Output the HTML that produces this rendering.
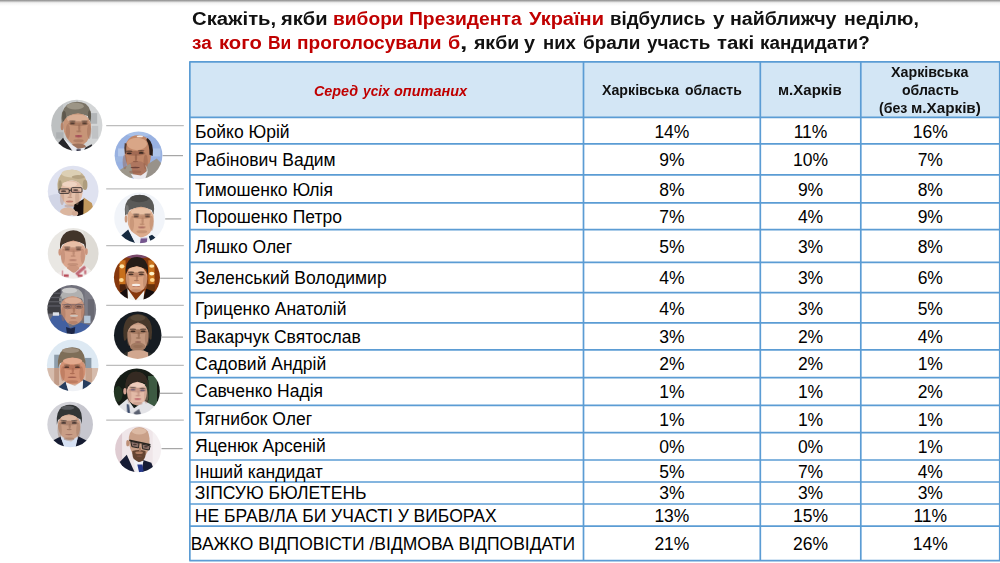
<!DOCTYPE html>
<html lang="uk"><head><meta charset="utf-8"><title>Опитування</title>
<style>
html,body{margin:0;padding:0;background:#fff;}
body{width:1000px;height:563px;overflow:hidden;position:relative;font-family:"Liberation Sans",sans-serif;color:#000;}
.topbar{position:absolute;left:0;top:0;width:1000px;height:6px;background:linear-gradient(#989898 0,#a0a0a0 14%,#d8d8d8 32%,#f2f2f2 48%,#f9f9f9 72%,#fff 100%);}
.tw{position:absolute;font-weight:bold;font-size:18.7px;line-height:24px;color:#111;white-space:nowrap;transform-origin:0 0;display:block;}
.hw{position:absolute;font-weight:bold;font-size:13.8px;line-height:18px;color:#111;white-space:nowrap;transform-origin:0 0;display:block;}
.hi{font-style:italic;}
.red{color:#c00000;}
.nm{position:absolute;left:194.6px;font-size:17.5px;white-space:nowrap;color:#000;}
.v{position:absolute;font-size:17.5px;text-align:center;white-space:nowrap;color:#000;}
svg{position:absolute;left:0;top:0;}
</style></head><body>
<div class="topbar"></div>

<span class="tw" style="left:191.69px;top:7.02px;transform:scaleX(1.0861)">Скажіть,</span>
<span class="tw" style="left:281.40px;top:7.02px;transform:scaleX(1.0738)">якби</span>
<span class="tw red" style="left:333.02px;top:7.02px;transform:scaleX(1.0264)">вибори</span>
<span class="tw red" style="left:408.51px;top:7.02px;transform:scaleX(1.0324)">Президента</span>
<span class="tw red" style="left:528.93px;top:7.02px;transform:scaleX(1.0686)">України</span>
<span class="tw" style="left:609.85px;top:7.02px;transform:scaleX(1.0027)">відбулись</span>
<span class="tw" style="left:713.12px;top:7.02px;transform:scaleX(1.1000)">у</span>
<span class="tw" style="left:730.29px;top:7.02px;transform:scaleX(1.0474)">найближчу</span>
<span class="tw" style="left:844.40px;top:7.02px;transform:scaleX(1.0426)">неділю,</span>
<span class="tw red" style="left:192.19px;top:31.02px;transform:scaleX(1.0105)">за</span>
<span class="tw red" style="left:218.55px;top:31.02px;transform:scaleX(1.0827)">кого</span>
<span class="tw red" style="left:268.33px;top:31.02px;transform:scaleX(0.9333)">Ви</span>
<span class="tw red" style="left:297.42px;top:31.02px;transform:scaleX(1.0227)">проголосували</span>
<span class="tw red" style="left:448.31px;top:31.02px;transform:scaleX(1.0600)">б</span>
<span class="tw" style="left:459.93px;top:31.02px;transform:scaleX(1.4182)">,</span>
<span class="tw" style="left:473.90px;top:31.02px;transform:scaleX(1.0429)">якби</span>
<span class="tw" style="left:523.84px;top:31.02px;transform:scaleX(1.0600)">у</span>
<span class="tw" style="left:543.46px;top:31.02px;transform:scaleX(0.9890)">них</span>
<span class="tw" style="left:583.14px;top:31.02px;transform:scaleX(1.0137)">брали</span>
<span class="tw" style="left:646.85px;top:31.02px;transform:scaleX(1.0105)">участь</span>
<span class="tw" style="left:716.95px;top:31.02px;transform:scaleX(1.0915)">такі</span>
<span class="tw" style="left:759.84px;top:31.02px;transform:scaleX(1.0089)">кандидати?</span>
<svg width="1000" height="563" viewBox="0 0 1000 563">
<rect x="189.85" y="61.85" width="809.9" height="55.550000000000004" fill="#d3e6f5"/>
<g stroke-width="1.25">
<line x1="106.2" y1="125.6" x2="183.8" y2="125.6" stroke="#bdbdbd"/>
<line x1="162.6" y1="155.6" x2="183.0" y2="155.6" stroke="#a6a6a6"/>
<line x1="106.2" y1="188.9" x2="183.8" y2="188.9" stroke="#bdbdbd"/>
<line x1="165.2" y1="218.9" x2="181.2" y2="218.9" stroke="#a6a6a6"/>
<line x1="106.2" y1="245.7" x2="183.8" y2="245.7" stroke="#bdbdbd"/>
<line x1="160.2" y1="278.3" x2="183.0" y2="278.3" stroke="#a6a6a6"/>
<line x1="106.2" y1="305.4" x2="183.8" y2="305.4" stroke="#bdbdbd"/>
<line x1="161.8" y1="337.1" x2="183.0" y2="337.1" stroke="#a6a6a6"/>
<line x1="106.2" y1="365.3" x2="183.8" y2="365.3" stroke="#bdbdbd"/>
<line x1="160.0" y1="393.3" x2="182.6" y2="393.3" stroke="#a6a6a6"/>
<line x1="106.2" y1="420.1" x2="183.8" y2="420.1" stroke="#bdbdbd"/>
<line x1="161.5" y1="448.6" x2="182.6" y2="448.6" stroke="#a6a6a6"/>
</g>
<g stroke="#5b9cd4" stroke-width="1.7" fill="none">
<line x1="189.25" y1="61.85" x2="1000.35" y2="61.85"/>
<line x1="189.25" y1="117.4" x2="1000.35" y2="117.4"/>
<line x1="189.25" y1="143.9" x2="1000.35" y2="143.9"/>
<line x1="189.25" y1="174.9" x2="1000.35" y2="174.9"/>
<line x1="189.25" y1="202.9" x2="1000.35" y2="202.9"/>
<line x1="189.25" y1="229.6" x2="1000.35" y2="229.6"/>
<line x1="189.25" y1="262.3" x2="1000.35" y2="262.3"/>
<line x1="189.25" y1="292.7" x2="1000.35" y2="292.7"/>
<line x1="189.25" y1="322.9" x2="1000.35" y2="322.9"/>
<line x1="189.25" y1="349.8" x2="1000.35" y2="349.8"/>
<line x1="189.25" y1="377.6" x2="1000.35" y2="377.6"/>
<line x1="189.25" y1="405.3" x2="1000.35" y2="405.3"/>
<line x1="189.25" y1="432.6" x2="1000.35" y2="432.6"/>
<line x1="189.25" y1="460.0" x2="1000.35" y2="460.0"/>
<line x1="189.25" y1="482.0" x2="1000.35" y2="482.0"/>
<line x1="189.25" y1="504.0" x2="1000.35" y2="504.0"/>
<line x1="189.25" y1="526.2" x2="1000.35" y2="526.2"/>
<line x1="189.25" y1="560.55" x2="1000.35" y2="560.55"/>
<line x1="189.85" y1="61.85" x2="189.85" y2="560.55"/>
<line x1="583.5" y1="61.85" x2="583.5" y2="560.55"/>
<line x1="760.3" y1="61.85" x2="760.3" y2="560.55"/>
<line x1="860.8" y1="61.85" x2="860.8" y2="560.55"/>
<line x1="999.75" y1="61.85" x2="999.75" y2="560.55"/>
</g>
<defs><filter id="bl" x="-5%" y="-5%" width="110%" height="110%"><feGaussianBlur stdDeviation="7"/></filter><filter id="bs" x="-5%" y="-5%" width="110%" height="110%"><feGaussianBlur stdDeviation="3.5"/></filter>
<clipPath id="c0"><circle cx="289" cy="285" r="240"/></clipPath>
<clipPath id="c1"><circle cx="277" cy="285" r="224"/></clipPath>
<clipPath id="c2"><circle cx="283" cy="283" r="238"/></clipPath>
<clipPath id="c3"><circle cx="287" cy="290" r="238"/></clipPath>
<clipPath id="c4"><circle cx="283" cy="285" r="238"/></clipPath>
<clipPath id="c5"><circle cx="281" cy="277" r="216"/></clipPath>
<clipPath id="c6"><circle cx="279" cy="277" r="229"/></clipPath>
<clipPath id="c7"><circle cx="279" cy="283" r="223"/></clipPath>
<clipPath id="c8"><circle cx="279" cy="285" r="242"/></clipPath>
<clipPath id="c9"><circle cx="280" cy="276" r="216"/></clipPath>
<clipPath id="c10"><circle cx="283" cy="277" r="214"/></clipPath>
<clipPath id="c11"><circle cx="283" cy="275" r="216"/></clipPath>
</defs>
<g transform="translate(46,95) scale(0.10657)"><g clip-path="url(#c0)"><g filter="url(#bl)">
<rect x="-80" y="-80" width="740" height="740" fill="#c9cccd"/>
<rect x="300" y="0" width="300" height="563" fill="#d3d5d6"/>
<rect x="0" y="0" width="160" height="563" fill="#bdc0c1"/>
<rect x="410" y="170" width="70" height="100" fill="#b2b5b7"/>
<rect x="95" y="350" width="70" height="60" fill="#adb0b2"/>
<rect x="430" y="290" width="60" height="120" fill="#c0c2c4"/>
<path d="M148,270 Q130,150 198,92 Q280,38 372,82 Q436,130 420,255 L398,200 Q300,150 203,200 Z" fill="#7a7366"/>
<ellipse cx="275" cy="105" rx="80" ry="32" fill="#9c9586"/>
<ellipse cx="170" cy="200" rx="18" ry="50" fill="#5e584e"/>
<ellipse cx="408" cy="190" rx="14" ry="45" fill="#5e584e"/>
<path d="M162,255 Q190,185 300,172 Q400,180 422,270 Q430,370 385,435 Q330,490 265,470 Q195,430 168,340 Z" fill="#c79578"/>
<ellipse cx="295" cy="222" rx="100" ry="40" fill="#d9ae94"/>
<ellipse cx="152" cy="295" rx="14" ry="36" fill="#b4836a"/>
<ellipse cx="300" cy="482" rx="72" ry="28" fill="#9e725c"/>
<polygon points="95,475 160,402 252,530 230,570 70,570" fill="#26262b"/>
<polygon points="362,498 428,462 480,570 335,570" fill="#303036"/>
<polygon points="163,408 255,530 352,530 368,492 300,505 212,445" fill="#e9ebf1"/>
<ellipse cx="305" cy="268" rx="97" ry="22" fill="#9a6a54" opacity="0.6"/>
<ellipse cx="205.25" cy="342.0" rx="20" ry="70" fill="#9a6a54" opacity="0.42"/>
<ellipse cx="404.75" cy="342.0" rx="20" ry="70" fill="#9a6a54" opacity="0.42"/>
<ellipse cx="305" cy="430" rx="48" ry="14" fill="#9a6a54" opacity="0.5"/>
</g><g filter="url(#bs)">
<ellipse cx="248" cy="266" rx="24" ry="8" fill="#3e2c26"/>
<ellipse cx="362" cy="266" rx="24" ry="8" fill="#3e2c26"/>
<ellipse cx="248" cy="246" rx="31" ry="6" fill="#3e2c26" opacity="0.8"/>
<ellipse cx="362" cy="246" rx="31" ry="6" fill="#3e2c26" opacity="0.8"/>
<ellipse cx="312" cy="304.5" rx="11" ry="31.5" fill="#9a6a54" opacity="0.65"/>
<ellipse cx="307" cy="340" rx="24" ry="7" fill="#9a6a54" opacity="0.85"/>
<ellipse cx="305" cy="388" rx="34" ry="10" fill="#a8525a"/>
<polygon points="285,508 326,508 322,570 288,570" fill="#35354a"/>
</g></g></g>
<g transform="translate(109,125) scale(0.10657)"><g clip-path="url(#c1)"><g filter="url(#bl)">
<rect x="-80" y="-80" width="740" height="740" fill="#98b1e1"/>
<rect x="85" y="220" width="70" height="75" fill="#b4c8ea"/>
<rect x="398" y="220" width="85" height="75" fill="#aec4e8"/>
<rect x="55" y="300" width="90" height="45" fill="#9db6e0"/>
<ellipse cx="277" cy="80" rx="120" ry="30" fill="#a8c0e8"/>
<path d="M148,270 Q140,150 210,110 Q280,80 345,115 Q400,150 395,270 Q392,380 340,450 Q280,500 215,455 Q160,390 148,270 Z" fill="#c08667"/>
<ellipse cx="262" cy="178" rx="95" ry="58" fill="#d9a687"/>
<ellipse cx="265" cy="410" rx="95" ry="72" fill="#ae765e"/>
<path d="M362,122 Q424,170 410,290 L380,280 Q382,190 350,138 Z" fill="#2a1c18"/>
<path d="M148,170 Q138,220 150,272 L163,264 Q158,215 166,176 Z" fill="#523a30"/>
<polygon points="70,440 200,362 228,470 205,530 80,530" fill="#9d978b"/>
<polygon points="362,368 448,315 510,380 445,490 325,530" fill="#98928a"/>
<polygon points="205,460 250,530 340,510 362,430 300,475" fill="#ebe9ee"/>
<ellipse cx="246" cy="266" rx="96" ry="22" fill="#8e5a46" opacity="0.6"/>
<ellipse cx="148.0" cy="346.0" rx="20" ry="70" fill="#8e5a46" opacity="0.42"/>
<ellipse cx="344.0" cy="346.0" rx="20" ry="70" fill="#8e5a46" opacity="0.42"/>
<ellipse cx="246" cy="440" rx="58" ry="14" fill="#8e5a46" opacity="0.5"/>
</g><g filter="url(#bs)">
<ellipse cx="190" cy="266" rx="24" ry="8" fill="#382620"/>
<ellipse cx="302" cy="262" rx="24" ry="8" fill="#382620"/>
<ellipse cx="190" cy="246" rx="31" ry="6" fill="#382620" opacity="0.8"/>
<ellipse cx="302" cy="242" rx="31" ry="6" fill="#382620" opacity="0.8"/>
<ellipse cx="253" cy="305.25" rx="11" ry="33.75" fill="#8e5a46" opacity="0.65"/>
<ellipse cx="248" cy="343" rx="24" ry="7" fill="#8e5a46" opacity="0.85"/>
<ellipse cx="246" cy="398" rx="44" ry="7" fill="#6e4238"/>
<ellipse cx="290" cy="107" rx="30" ry="9" fill="#f6efe9"/>
<path d="M345,380 Q372,420 350,475" fill="none" stroke="#dcd8d0" stroke-width="6"/>
</g></g></g>
<g transform="translate(43,161) scale(0.10657)"><g clip-path="url(#c2)"><g filter="url(#bl)">
<rect x="-80" y="-80" width="740" height="740" fill="#dfe2f0"/>
<ellipse cx="140" cy="430" rx="160" ry="120" fill="#d1d5e6"/>
<path d="M138,270 Q120,150 200,100 Q290,55 370,120 Q420,170 405,250 Q395,280 375,260 Q330,170 250,185 Q180,200 160,290 Z" fill="#c6b493"/>
<ellipse cx="265" cy="118" rx="92" ry="36" fill="#dccfb4"/>
<ellipse cx="395" cy="225" rx="22" ry="48" fill="#ae9d7e"/>
<ellipse cx="160" cy="230" rx="16" ry="50" fill="#a89878"/>
<ellipse cx="330" cy="150" rx="60" ry="18" fill="#b4a282"/>
<path d="M160,285 Q170,200 250,185 Q340,175 372,260 Q378,340 330,400 Q270,440 215,405 Q165,350 160,285 Z" fill="#e4c0aa"/>
<ellipse cx="250" cy="218" rx="70" ry="26" fill="#efd4c2"/>
<polygon points="292,410 388,352 404,485 336,530 282,472" fill="#130f0d"/>
<polygon points="382,342 458,395 475,455 408,530 378,498" fill="#c1975c"/>
<ellipse cx="232" cy="474" rx="72" ry="38" fill="#dbb69f"/>
<ellipse cx="300" cy="492" rx="30" ry="22" fill="#d2aa94"/>
<ellipse cx="250" cy="280" rx="97" ry="22" fill="#b88e7a" opacity="0.6"/>
<ellipse cx="178.75" cy="344.0" rx="20" ry="70" fill="#b88e7a" opacity="0.42"/>
<ellipse cx="321.25" cy="344.0" rx="20" ry="70" fill="#b88e7a" opacity="0.42"/>
<ellipse cx="250" cy="422" rx="48" ry="14" fill="#b88e7a" opacity="0.5"/>
</g><g filter="url(#bs)">
<ellipse cx="193" cy="283" rx="24" ry="8" fill="#5a4640"/>
<ellipse cx="307" cy="273" rx="24" ry="8" fill="#5a4640"/>
<ellipse cx="193" cy="263" rx="31" ry="6" fill="#5a4640" opacity="0.0"/>
<ellipse cx="307" cy="253" rx="31" ry="6" fill="#5a4640" opacity="0.0"/>
<ellipse cx="257" cy="309.9" rx="11" ry="26.1" fill="#b88e7a" opacity="0.65"/>
<ellipse cx="252" cy="340" rx="24" ry="7" fill="#b88e7a" opacity="0.85"/>
<ellipse cx="250" cy="380" rx="34" ry="9" fill="#c07c6e"/>
<rect x="150" y="262" width="96" height="42" fill="none" stroke="#272125" stroke-width="8" rx="10"/>
<rect x="266" y="250" width="100" height="44" fill="none" stroke="#272125" stroke-width="8" rx="10"/>
<path d="M246,278 L266,272" fill="none" stroke="#272125" stroke-width="8"/>
</g></g></g>
<g transform="translate(109,187) scale(0.10657)"><g clip-path="url(#c3)"><g filter="url(#bl)">
<rect x="-80" y="-80" width="740" height="740" fill="#f1f4f9"/>
<path d="M152,270 Q130,140 215,90 Q300,50 380,100 Q440,150 418,260 L400,215 Q300,165 195,215 Z" fill="#5a5a58"/>
<ellipse cx="285" cy="108" rx="88" ry="34" fill="#484846"/>
<ellipse cx="170" cy="215" rx="16" ry="45" fill="#767674"/>
<path d="M172,260 Q195,195 300,185 Q400,195 418,270 Q425,370 385,430 Q330,485 270,470 Q200,430 178,350 Z" fill="#dcab8c"/>
<ellipse cx="300" cy="233" rx="95" ry="36" fill="#e9c2a6"/>
<ellipse cx="160" cy="300" rx="13" ry="34" fill="#cb9a7e"/>
<polygon points="100,470 180,398 247,530 130,530" fill="#15293f"/>
<polygon points="370,464 404,448 450,488 400,530" fill="#15293f"/>
<polygon points="185,402 250,530 388,525 372,455 300,478" fill="#f0f2f8"/>
<ellipse cx="308" cy="278" rx="93" ry="22" fill="#b07e62" opacity="0.6"/>
<ellipse cx="215.25" cy="342.0" rx="20" ry="70" fill="#b07e62" opacity="0.42"/>
<ellipse cx="400.75" cy="342.0" rx="20" ry="70" fill="#b07e62" opacity="0.42"/>
<ellipse cx="308" cy="420" rx="50" ry="14" fill="#b07e62" opacity="0.5"/>
</g><g filter="url(#bs)">
<ellipse cx="255" cy="276" rx="24" ry="8" fill="#4a362e"/>
<ellipse cx="361" cy="276" rx="24" ry="8" fill="#4a362e"/>
<ellipse cx="255" cy="256" rx="31" ry="6" fill="#4a362e" opacity="0.8"/>
<ellipse cx="361" cy="256" rx="31" ry="6" fill="#4a362e" opacity="0.8"/>
<ellipse cx="315" cy="313.4" rx="11" ry="30.6" fill="#b07e62" opacity="0.65"/>
<ellipse cx="310" cy="348" rx="24" ry="7" fill="#b07e62" opacity="0.85"/>
<ellipse cx="308" cy="378" rx="36" ry="7" fill="#a06056"/>
<polygon points="298,482 360,480 352,535 290,530" fill="#75568e"/>
</g></g></g>
<g transform="translate(43,223) scale(0.10657)"><g clip-path="url(#c4)"><g filter="url(#bl)">
<rect x="-80" y="-80" width="740" height="740" fill="#e9e7e3"/>
<rect x="380" y="0" width="200" height="563" fill="#dedbd5"/>
<path d="M160,250 Q150,130 220,85 Q290,50 355,90 Q410,130 402,250 L385,200 Q290,140 180,205 Z" fill="#43342c"/>
<path d="M165,250 Q185,185 285,165 Q385,185 400,255 Q405,340 365,400 Q320,440 280,440 Q235,438 195,395 Q160,335 165,250 Z" fill="#dba68d"/>
<ellipse cx="282" cy="208" rx="88" ry="33" fill="#e8bea6"/>
<ellipse cx="158" cy="274" rx="13" ry="32" fill="#cc957d"/>
<ellipse cx="407" cy="268" rx="13" ry="32" fill="#cc957d"/>
<ellipse cx="282" cy="432" rx="60" ry="36" fill="#cc967e"/>
<polygon points="140,470 215,418 290,475 385,392 450,445 425,550 140,550" fill="#f0ecea"/>
<ellipse cx="280" cy="249" rx="93" ry="22" fill="#b07c66" opacity="0.6"/>
<ellipse cx="187.25" cy="312.5" rx="20" ry="70" fill="#b07c66" opacity="0.42"/>
<ellipse cx="372.75" cy="312.5" rx="20" ry="70" fill="#b07c66" opacity="0.42"/>
<ellipse cx="280" cy="390" rx="50" ry="14" fill="#b07c66" opacity="0.5"/>
</g><g filter="url(#bs)">
<ellipse cx="227" cy="247" rx="24" ry="8" fill="#5a4036"/>
<ellipse cx="333" cy="247" rx="24" ry="8" fill="#5a4036"/>
<ellipse cx="227" cy="227" rx="31" ry="6" fill="#4a3228" opacity="0.8"/>
<ellipse cx="333" cy="227" rx="31" ry="6" fill="#4a3228" opacity="0.8"/>
<ellipse cx="287" cy="278.9" rx="11" ry="26.1" fill="#b07c66" opacity="0.65"/>
<ellipse cx="282" cy="309" rx="24" ry="7" fill="#b07c66" opacity="0.85"/>
<ellipse cx="280" cy="348" rx="36" ry="6" fill="#aa7262"/>
<polygon points="300,472 386,398 406,420 320,494" fill="#c06a76"/>
<rect x="195" y="482" width="45" height="24" fill="#b84a58"/>
<rect x="325" y="484" width="45" height="22" fill="#b84a58"/>
<rect x="386" y="442" width="20" height="38" fill="#c46c78"/>
<rect x="176" y="445" width="12" height="55" fill="#d08a92"/>
</g></g></g>
<g transform="translate(107,248) scale(0.10657)"><g clip-path="url(#c5)"><g filter="url(#bl)">
<rect x="-80" y="-80" width="740" height="740" fill="#86380f"/>
<ellipse cx="280" cy="66" rx="130" ry="32" fill="#7a4a6a"/>
<rect x="116" y="115" width="58" height="230" fill="#c8701c"/>
<rect x="388" y="115" width="58" height="230" fill="#c8701c"/>
<rect x="120" y="340" width="85" height="65" fill="#4c220e"/>
<rect x="370" y="340" width="80" height="60" fill="#66300f"/>
<path d="M176,250 Q165,130 230,95 Q290,70 340,100 Q395,140 385,250 L368,200 Q280,150 192,200 Z" fill="#251b14"/>
<path d="M178,250 Q195,185 280,170 Q360,185 378,250 Q385,330 345,385 Q300,420 275,418 Q235,415 205,380 Q172,330 178,250 Z" fill="#dca482"/>
<ellipse cx="275" cy="206" rx="75" ry="28" fill="#e8b898"/>
<polygon points="90,440 192,376 196,490 110,490" fill="#14110e"/>
<polygon points="368,383 460,415 405,500 333,500" fill="#14110e"/>
<polygon points="192,380 270,490 352,396 340,500 198,500" fill="#f3f3f1"/>
<ellipse cx="274" cy="249" rx="88" ry="22" fill="#a8745a" opacity="0.6"/>
<ellipse cx="190.0" cy="317.5" rx="20" ry="70" fill="#a8745a" opacity="0.42"/>
<ellipse cx="358.0" cy="317.5" rx="20" ry="70" fill="#a8745a" opacity="0.42"/>
<ellipse cx="274" cy="400" rx="50" ry="14" fill="#a8745a" opacity="0.5"/>
</g><g filter="url(#bs)">
<ellipse cx="226" cy="247" rx="24" ry="8" fill="#4c342a"/>
<ellipse cx="322" cy="247" rx="24" ry="8" fill="#4c342a"/>
<ellipse cx="226" cy="227" rx="31" ry="6" fill="#2e2018" opacity="0.8"/>
<ellipse cx="322" cy="227" rx="31" ry="6" fill="#2e2018" opacity="0.8"/>
<ellipse cx="281" cy="277.25" rx="11" ry="24.75" fill="#a8745a" opacity="0.65"/>
<ellipse cx="276" cy="306" rx="24" ry="7" fill="#a8745a" opacity="0.85"/>
<ellipse cx="274" cy="358" rx="36" ry="6" fill="#b06a58"/>
<ellipse cx="140" cy="172" rx="22" ry="20" fill="#ffe6a8"/>
<ellipse cx="135" cy="300" rx="22" ry="18" fill="#ffd890"/>
<ellipse cx="420" cy="170" rx="24" ry="16" fill="#ffe6a8"/>
<ellipse cx="420" cy="240" rx="24" ry="18" fill="#fff4cc"/>
<ellipse cx="425" cy="300" rx="22" ry="18" fill="#ffd890"/>
<ellipse cx="273" cy="347" rx="40" ry="11" fill="#f6eee8"/>
</g></g></g>
<g transform="translate(42,280) scale(0.10657)"><g clip-path="url(#c6)"><g filter="url(#bl)">
<rect x="-80" y="-80" width="740" height="740" fill="#71717b"/>
<rect x="40" y="80" width="135" height="235" fill="#3c3c42"/>
<rect x="400" y="50" width="130" height="310" fill="#7d7d87"/>
<rect x="430" y="180" width="60" height="200" fill="#696973"/>
<path d="M165,225 Q160,120 225,85 Q285,60 345,90 Q400,125 392,225 L375,175 Q285,135 185,180 Z" fill="#b0b0b0"/>
<ellipse cx="258" cy="98" rx="72" ry="26" fill="#cccccc"/>
<ellipse cx="175" cy="190" rx="14" ry="40" fill="#8c8c8c"/>
<path d="M178,225 Q195,165 285,150 Q375,160 395,230 Q405,320 370,380 Q325,425 285,420 Q230,410 195,360 Q172,300 178,225 Z" fill="#ca977e"/>
<ellipse cx="290" cy="193" rx="80" ry="28" fill="#dbae96"/>
<polygon points="50,410 100,335 188,326 264,448 364,400 460,428 435,530 80,530" fill="#4360a0"/>
<polygon points="225,442 270,455 312,442 302,530 238,530" fill="#1c2846"/>
<ellipse cx="293" cy="252" rx="93" ry="22" fill="#a06e58" opacity="0.6"/>
<ellipse cx="200.25" cy="318.0" rx="20" ry="70" fill="#a06e58" opacity="0.42"/>
<ellipse cx="385.75" cy="318.0" rx="20" ry="70" fill="#a06e58" opacity="0.42"/>
<ellipse cx="293" cy="398" rx="42" ry="14" fill="#a06e58" opacity="0.5"/>
</g><g filter="url(#bs)">
<ellipse cx="240" cy="250" rx="24" ry="8" fill="#6a4c42"/>
<ellipse cx="346" cy="250" rx="24" ry="8" fill="#6a4c42"/>
<ellipse cx="240" cy="230" rx="31" ry="6" fill="#8a7a74" opacity="0.6"/>
<ellipse cx="346" cy="230" rx="31" ry="6" fill="#8a7a74" opacity="0.6"/>
<ellipse cx="300" cy="283.0" rx="11" ry="27.0" fill="#a06e58" opacity="0.65"/>
<ellipse cx="295" cy="314" rx="24" ry="7" fill="#a06e58" opacity="0.85"/>
<ellipse cx="293" cy="356" rx="28" ry="5" fill="#a8705e"/>
<rect x="40" y="118" width="135" height="12" fill="#5c5c64"/>
<rect x="40" y="158" width="135" height="12" fill="#5c5c64"/>
<rect x="40" y="198" width="135" height="12" fill="#5c5c64"/>
<rect x="40" y="238" width="135" height="12" fill="#5c5c64"/>
<rect x="102" y="303" width="58" height="32" fill="#dce0e8"/>
<rect x="395" y="335" width="60" height="70" fill="#b4c6d8"/>
<rect x="190" y="230" width="208" height="6" fill="#66545a"/>
<ellipse cx="240" cy="248" rx="36" ry="22" fill="none" stroke="#786468" stroke-width="6"/>
<ellipse cx="346" cy="248" rx="36" ry="22" fill="none" stroke="#786468" stroke-width="6"/>
<ellipse cx="300" cy="336" rx="38" ry="9" fill="#cfc6be"/>
</g></g></g>
<g transform="translate(108,305) scale(0.10657)"><g clip-path="url(#c7)"><g filter="url(#bl)">
<rect x="-80" y="-80" width="740" height="740" fill="#181e20"/>
<path d="M150,330 Q125,170 200,110 Q280,60 360,110 Q430,170 408,320 Q395,340 385,300 L375,215 Q290,150 195,215 L178,310 Q165,345 150,330 Z" fill="#46382c"/>
<ellipse cx="280" cy="120" rx="70" ry="28" fill="#584838"/>
<path d="M182,260 Q195,185 282,165 Q370,185 380,260 Q385,350 350,400 Q310,435 280,432 Q245,430 212,398 Q178,345 182,260 Z" fill="#c2977e"/>
<ellipse cx="282" cy="210" rx="72" ry="26" fill="#d2aa92"/>
<ellipse cx="280" cy="392" rx="72" ry="40" fill="#a27a62"/>
<polygon points="178,445 232,425 330,425 382,448 388,530 172,530" fill="#d1a78f"/>
<polygon points="110,480 186,430 180,530 125,530" fill="#2e2e2c"/>
<polygon points="376,440 440,475 425,530 382,530" fill="#2e2e2c"/>
<ellipse cx="282" cy="249" rx="88" ry="22" fill="#8e664e" opacity="0.6"/>
<ellipse cx="198.0" cy="312.0" rx="20" ry="70" fill="#8e664e" opacity="0.42"/>
<ellipse cx="366.0" cy="312.0" rx="20" ry="70" fill="#8e664e" opacity="0.42"/>
<ellipse cx="282" cy="389" rx="44" ry="14" fill="#8e664e" opacity="0.5"/>
</g><g filter="url(#bs)">
<ellipse cx="234" cy="247" rx="24" ry="8" fill="#3a2a22"/>
<ellipse cx="330" cy="247" rx="24" ry="8" fill="#3a2a22"/>
<ellipse cx="234" cy="227" rx="31" ry="6" fill="#3a2a22" opacity="0.8"/>
<ellipse cx="330" cy="227" rx="31" ry="6" fill="#3a2a22" opacity="0.8"/>
<ellipse cx="289" cy="278.9" rx="11" ry="26.1" fill="#8e664e" opacity="0.65"/>
<ellipse cx="284" cy="309" rx="24" ry="7" fill="#8e664e" opacity="0.85"/>
<ellipse cx="282" cy="347" rx="30" ry="7" fill="#946456"/>
</g></g></g>
<g transform="translate(43,335) scale(0.10657)"><g clip-path="url(#c8)"><g filter="url(#bl)">
<rect x="-80" y="-80" width="740" height="740" fill="#dde9f3"/>
<rect x="0" y="310" width="563" height="260" fill="#d6bcad"/>
<rect x="105" y="185" width="50" height="125" fill="#8e9eac"/>
<rect x="392" y="215" width="62" height="95" fill="#8a9aa8"/>
<rect x="105" y="310" width="45" height="160" fill="#c09a86"/>
<rect x="400" y="310" width="60" height="130" fill="#c6a28d"/>
<path d="M140,310 Q128,170 205,130 Q275,100 340,130 Q402,165 400,305 L385,262 Q280,200 158,268 Z" fill="#7e6e59"/>
<ellipse cx="258" cy="146" rx="82" ry="24" fill="#9e8e7c"/>
<path d="M158,290 Q175,225 275,210 Q375,222 398,290 Q405,370 372,425 Q325,470 280,465 Q225,458 185,415 Q152,360 158,290 Z" fill="#d39274"/>
<ellipse cx="277" cy="243" rx="90" ry="30" fill="#e2aa8e"/>
<polygon points="120,510 212,436 246,550 135,550" fill="#283e5e"/>
<polygon points="375,416 470,458 425,550 362,530" fill="#283e5e"/>
<polygon points="214,446 244,545 372,525 376,426 300,478" fill="#f0f2f6"/>
<ellipse cx="273" cy="304" rx="90" ry="22" fill="#a8664e" opacity="0.6"/>
<ellipse cx="185.5" cy="364.0" rx="20" ry="70" fill="#a8664e" opacity="0.42"/>
<ellipse cx="360.5" cy="364.0" rx="20" ry="70" fill="#a8664e" opacity="0.42"/>
<ellipse cx="273" cy="438" rx="56" ry="14" fill="#a8664e" opacity="0.5"/>
</g><g filter="url(#bs)">
<ellipse cx="223" cy="302" rx="24" ry="8" fill="#58392e"/>
<ellipse cx="323" cy="302" rx="24" ry="8" fill="#58392e"/>
<ellipse cx="223" cy="282" rx="31" ry="6" fill="#6a5444" opacity="0.8"/>
<ellipse cx="323" cy="282" rx="31" ry="6" fill="#6a5444" opacity="0.8"/>
<ellipse cx="280" cy="332.25" rx="11" ry="24.75" fill="#a8664e" opacity="0.65"/>
<ellipse cx="275" cy="361" rx="24" ry="7" fill="#a8664e" opacity="0.85"/>
<ellipse cx="273" cy="396" rx="42" ry="7" fill="#a05e50"/>
</g></g></g>
<g transform="translate(107,362) scale(0.10657)"><g clip-path="url(#c9)"><g filter="url(#bl)">
<rect x="-80" y="-80" width="740" height="740" fill="#131a13"/>
<rect x="385" y="130" width="85" height="280" fill="#3e5a42"/>
<rect x="355" y="170" width="40" height="190" fill="#263828"/>
<ellipse cx="105" cy="300" rx="42" ry="75" fill="#243424"/>
<path d="M172,255 Q165,140 225,100 Q285,75 335,105 Q390,140 378,235 L360,200 Q280,165 200,215 L185,265 Z" fill="#352b23"/>
<path d="M188,260 Q200,200 285,185 Q365,195 375,260 Q378,330 345,380 Q310,410 282,408 Q245,405 215,372 Q185,325 188,260 Z" fill="#e3baa7"/>
<ellipse cx="288" cy="218" rx="68" ry="24" fill="#eeccbc"/>
<ellipse cx="168" cy="274" rx="15" ry="30" fill="#d6a494"/>
<polygon points="85,435 192,346 254,435 354,366 465,428 415,510 140,510" fill="#e3e3e7"/>
<ellipse cx="288" cy="264" rx="85" ry="22" fill="#bc8c7c" opacity="0.6"/>
<ellipse cx="209.25" cy="320.0" rx="20" ry="70" fill="#bc8c7c" opacity="0.42"/>
<ellipse cx="366.75" cy="320.0" rx="20" ry="70" fill="#bc8c7c" opacity="0.42"/>
<ellipse cx="288" cy="390" rx="46" ry="14" fill="#bc8c7c" opacity="0.5"/>
</g><g filter="url(#bs)">
<ellipse cx="243" cy="259" rx="24" ry="8" fill="#6a5a70"/>
<ellipse cx="333" cy="265" rx="24" ry="8" fill="#6a5a70"/>
<ellipse cx="243" cy="239" rx="31" ry="6" fill="#4a3a32" opacity="0.8"/>
<ellipse cx="333" cy="245" rx="31" ry="6" fill="#4a3a32" opacity="0.8"/>
<ellipse cx="295" cy="289.5" rx="11" ry="22.5" fill="#bc8c7c" opacity="0.65"/>
<ellipse cx="290" cy="316" rx="24" ry="7" fill="#bc8c7c" opacity="0.85"/>
<ellipse cx="288" cy="348" rx="32" ry="8" fill="#bc626a"/>
<polygon points="185,395 206,400 216,480 190,480" fill="#3a4a6a"/>
<polygon points="250,475 300,442 322,500 260,505" fill="#5a6070"/>
</g></g></g>
<g transform="translate(40,395) scale(0.10657)"><g clip-path="url(#c10)"><g filter="url(#bl)">
<rect x="-80" y="-80" width="740" height="740" fill="#d2d2d8"/>
<rect x="350" y="0" width="220" height="563" fill="#c6c6ce"/>
<path d="M158,278 Q146,140 220,105 Q280,80 340,105 Q404,140 392,272 L380,228 Q280,168 170,232 Z" fill="#323436"/>
<ellipse cx="258" cy="120" rx="64" ry="18" fill="#56595b"/>
<path d="M168,255 Q185,195 272,180 Q360,192 378,255 Q385,340 350,390 Q310,425 272,420 Q230,415 198,378 Q162,325 168,255 Z" fill="#c99e86"/>
<ellipse cx="270" cy="216" rx="75" ry="26" fill="#dab6a0"/>
<polygon points="95,440 192,390 236,500 130,500" fill="#191f30"/>
<polygon points="358,386 455,436 400,500 326,500" fill="#191f30"/>
<polygon points="195,396 232,500 332,500 356,391 290,444" fill="#d6e1f4"/>
<ellipse cx="272" cy="264" rx="90" ry="22" fill="#9c7460" opacity="0.6"/>
<ellipse cx="184.5" cy="331.5" rx="20" ry="70" fill="#9c7460" opacity="0.42"/>
<ellipse cx="359.5" cy="331.5" rx="20" ry="70" fill="#9c7460" opacity="0.42"/>
<ellipse cx="272" cy="413" rx="50" ry="14" fill="#9c7460" opacity="0.5"/>
</g><g filter="url(#bs)">
<ellipse cx="222" cy="262" rx="24" ry="8" fill="#4a3a34"/>
<ellipse cx="322" cy="262" rx="24" ry="8" fill="#4a3a34"/>
<ellipse cx="222" cy="242" rx="31" ry="6" fill="#34302e" opacity="0.8"/>
<ellipse cx="322" cy="242" rx="31" ry="6" fill="#34302e" opacity="0.8"/>
<ellipse cx="279" cy="293.9" rx="11" ry="26.1" fill="#9c7460" opacity="0.65"/>
<ellipse cx="274" cy="324" rx="24" ry="7" fill="#9c7460" opacity="0.85"/>
<ellipse cx="272" cy="371" rx="36" ry="6" fill="#a07062"/>
</g></g></g>
<g transform="translate(108,420) scale(0.10657)"><g clip-path="url(#c11)"><g filter="url(#bl)">
<rect x="-80" y="-80" width="740" height="740" fill="#efe6e9"/>
<rect x="60" y="90" width="72" height="320" fill="#dfccd2"/>
<rect x="420" y="90" width="90" height="370" fill="#f5f0f2"/>
<path d="M195,200 Q190,100 260,72 Q330,55 372,105 Q400,160 385,250 Q375,310 340,340 L245,335 Q205,290 195,200 Z" fill="#c9a088"/>
<ellipse cx="292" cy="106" rx="68" ry="30" fill="#dcbaa4"/>
<ellipse cx="185" cy="217" rx="14" ry="30" fill="#bc8e76"/>
<path d="M228,290 Q290,270 352,292 Q360,350 325,385 Q290,405 255,385 Q225,350 228,290 Z" fill="#654432"/>
<polygon points="110,395 176,326 254,500 165,490" fill="#181f34"/>
<polygon points="330,376 407,400 424,448 354,505 316,490" fill="#181f34"/>
<polygon points="180,323 240,365 262,500 300,500 334,383 290,398" fill="#f1f1f5"/>
</g><g filter="url(#bs)">
<path d="M200,190 L398,232" fill="none" stroke="#26221f" stroke-width="14"/>
<path d="M214,200 L292,217 L286,262 L224,250 Z" fill="#8a7068" stroke="#26221f" stroke-width="9"/>
<path d="M320,226 L396,243 L386,282 L324,270 Z" fill="#8a7068" stroke="#26221f" stroke-width="9"/>
<ellipse cx="252" cy="230" rx="18" ry="7" fill="#4a3832"/>
<ellipse cx="356" cy="250" rx="18" ry="7" fill="#4a3832"/>
<ellipse cx="300" cy="275" rx="10" ry="22" fill="#a87c66"/>
<ellipse cx="292" cy="308" rx="36" ry="12" fill="#b07e64"/>
<ellipse cx="293" cy="338" rx="26" ry="6" fill="#845444"/>
<polygon points="275,418 322,418 340,510 296,510" fill="#28388a"/>
</g></g></g>
</svg>
<span class="hw hi red" style="left:314.02px;top:82.82px;transform:scaleX(1.0376)">Серед</span>
<span class="hw hi red" style="left:362.50px;top:82.82px;transform:scaleX(0.9946)">усіх</span>
<span class="hw hi red" style="left:393.98px;top:82.82px;transform:scaleX(1.0489)">опитаних</span>
<span class="hw" style="left:601.94px;top:82.02px;transform:scaleX(1.0288)">Харківська</span>
<span class="hw" style="left:684.89px;top:82.02px;transform:scaleX(1.0145)">область</span>
<span class="hw" style="left:777.91px;top:82.02px;transform:scaleX(1.0877)">м.Харків</span>
<span class="hw" style="left:891.14px;top:64.02px;transform:scaleX(1.0328)">Харківська</span>
<span class="hw" style="left:901.69px;top:82.12px;transform:scaleX(1.0182)">область</span>
<span class="hw" style="left:879.43px;top:100.02px;transform:scaleX(1.0264)">(без</span>
<span class="hw" style="left:911.49px;top:100.02px;transform:scaleX(1.1057)">м.Харків)</span>
<div class="nm" style="left:195.05px;top:118.50px;height:26.50px;line-height:26.50px">Бойко Юрій</div>
<div class="v" style="left:583.5px;width:176.8px;top:118.50px;height:26.50px;line-height:26.50px">14%</div>
<div class="v" style="left:760.3px;width:100.5px;top:118.50px;height:26.50px;line-height:26.50px">11%</div>
<div class="v" style="left:860.8px;width:139.0px;top:118.50px;height:26.50px;line-height:26.50px">16%</div>
<div class="nm" style="left:195.05px;top:145.00px;height:31.00px;line-height:31.00px">Рабінович Вадим</div>
<div class="v" style="left:583.5px;width:176.8px;top:145.00px;height:31.00px;line-height:31.00px">9%</div>
<div class="v" style="left:760.3px;width:100.5px;top:145.00px;height:31.00px;line-height:31.00px">10%</div>
<div class="v" style="left:860.8px;width:139.0px;top:145.00px;height:31.00px;line-height:31.00px">7%</div>
<div class="nm" style="left:195.05px;top:176.00px;height:28.00px;line-height:28.00px">Тимошенко Юлія</div>
<div class="v" style="left:583.5px;width:176.8px;top:176.00px;height:28.00px;line-height:28.00px">8%</div>
<div class="v" style="left:760.3px;width:100.5px;top:176.00px;height:28.00px;line-height:28.00px">9%</div>
<div class="v" style="left:860.8px;width:139.0px;top:176.00px;height:28.00px;line-height:28.00px">8%</div>
<div class="nm" style="left:195.05px;top:204.00px;height:26.70px;line-height:26.70px">Порошенко Петро</div>
<div class="v" style="left:583.5px;width:176.8px;top:204.00px;height:26.70px;line-height:26.70px">7%</div>
<div class="v" style="left:760.3px;width:100.5px;top:204.00px;height:26.70px;line-height:26.70px">4%</div>
<div class="v" style="left:860.8px;width:139.0px;top:204.00px;height:26.70px;line-height:26.70px">9%</div>
<div class="nm" style="left:195.05px;top:230.70px;height:32.70px;line-height:32.70px">Ляшко Олег</div>
<div class="v" style="left:583.5px;width:176.8px;top:230.70px;height:32.70px;line-height:32.70px">5%</div>
<div class="v" style="left:760.3px;width:100.5px;top:230.70px;height:32.70px;line-height:32.70px">3%</div>
<div class="v" style="left:860.8px;width:139.0px;top:230.70px;height:32.70px;line-height:32.70px">8%</div>
<div class="nm" style="left:195.05px;top:263.40px;height:30.40px;line-height:30.40px">Зеленський Володимир</div>
<div class="v" style="left:583.5px;width:176.8px;top:263.40px;height:30.40px;line-height:30.40px">4%</div>
<div class="v" style="left:760.3px;width:100.5px;top:263.40px;height:30.40px;line-height:30.40px">3%</div>
<div class="v" style="left:860.8px;width:139.0px;top:263.40px;height:30.40px;line-height:30.40px">6%</div>
<div class="nm" style="left:195.05px;top:293.80px;height:30.20px;line-height:30.20px">Гриценко Анатолій</div>
<div class="v" style="left:583.5px;width:176.8px;top:293.80px;height:30.20px;line-height:30.20px">4%</div>
<div class="v" style="left:760.3px;width:100.5px;top:293.80px;height:30.20px;line-height:30.20px">3%</div>
<div class="v" style="left:860.8px;width:139.0px;top:293.80px;height:30.20px;line-height:30.20px">5%</div>
<div class="nm" style="left:195.05px;top:324.00px;height:26.90px;line-height:26.90px">Вакарчук Святослав</div>
<div class="v" style="left:583.5px;width:176.8px;top:324.00px;height:26.90px;line-height:26.90px">3%</div>
<div class="v" style="left:760.3px;width:100.5px;top:324.00px;height:26.90px;line-height:26.90px">2%</div>
<div class="v" style="left:860.8px;width:139.0px;top:324.00px;height:26.90px;line-height:26.90px">4%</div>
<div class="nm" style="left:195.05px;top:350.90px;height:27.80px;line-height:27.80px">Садовий Андрій</div>
<div class="v" style="left:583.5px;width:176.8px;top:350.90px;height:27.80px;line-height:27.80px">2%</div>
<div class="v" style="left:760.3px;width:100.5px;top:350.90px;height:27.80px;line-height:27.80px">2%</div>
<div class="v" style="left:860.8px;width:139.0px;top:350.90px;height:27.80px;line-height:27.80px">1%</div>
<div class="nm" style="left:195.05px;top:378.40px;height:27.70px;line-height:27.70px">Савченко Надія</div>
<div class="v" style="left:583.5px;width:176.8px;top:379.10px;height:27.70px;line-height:27.70px">1%</div>
<div class="v" style="left:760.3px;width:100.5px;top:379.10px;height:27.70px;line-height:27.70px">1%</div>
<div class="v" style="left:860.8px;width:139.0px;top:379.10px;height:27.70px;line-height:27.70px">2%</div>
<div class="nm" style="left:195.05px;top:406.10px;height:27.30px;line-height:27.30px">Тягнибок Олег</div>
<div class="v" style="left:583.5px;width:176.8px;top:406.80px;height:27.30px;line-height:27.30px">1%</div>
<div class="v" style="left:760.3px;width:100.5px;top:406.80px;height:27.30px;line-height:27.30px">1%</div>
<div class="v" style="left:860.8px;width:139.0px;top:406.80px;height:27.30px;line-height:27.30px">1%</div>
<div class="nm" style="left:195.05px;top:433.40px;height:27.40px;line-height:27.40px">Яценюк Арсеній</div>
<div class="v" style="left:583.5px;width:176.8px;top:434.10px;height:27.40px;line-height:27.40px">0%</div>
<div class="v" style="left:760.3px;width:100.5px;top:434.10px;height:27.40px;line-height:27.40px">0%</div>
<div class="v" style="left:860.8px;width:139.0px;top:434.10px;height:27.40px;line-height:27.40px">1%</div>
<div class="nm" style="left:194.8px;top:460.90px;height:22.00px;line-height:22.00px">Інший кандидат</div>
<div class="v" style="left:583.5px;width:176.8px;top:460.90px;height:22.00px;line-height:22.00px">5%</div>
<div class="v" style="left:760.3px;width:100.5px;top:460.90px;height:22.00px;line-height:22.00px">7%</div>
<div class="v" style="left:860.8px;width:139.0px;top:460.90px;height:22.00px;line-height:22.00px">4%</div>
<div class="nm" style="left:194.8px;top:482.30px;height:22.00px;line-height:22.00px">ЗІПСУЮ БЮЛЕТЕНЬ</div>
<div class="v" style="left:583.5px;width:176.8px;top:482.30px;height:22.00px;line-height:22.00px">3%</div>
<div class="v" style="left:760.3px;width:100.5px;top:482.30px;height:22.00px;line-height:22.00px">3%</div>
<div class="v" style="left:860.8px;width:139.0px;top:482.30px;height:22.00px;line-height:22.00px">3%</div>
<div class="nm" style="left:194.8px;top:504.80px;height:22.20px;line-height:22.20px">НЕ БРАВ/ЛА БИ УЧАСТІ У ВИБОРАХ</div>
<div class="v" style="left:583.5px;width:176.8px;top:504.80px;height:22.20px;line-height:22.20px">13%</div>
<div class="v" style="left:760.3px;width:100.5px;top:504.80px;height:22.20px;line-height:22.20px">15%</div>
<div class="v" style="left:860.8px;width:139.0px;top:504.80px;height:22.20px;line-height:22.20px">11%</div>
<div class="nm" style="left:190.8px;top:527.10px;height:34.35px;line-height:34.35px">ВАЖКО ВІДПОВІСТИ /ВІДМОВА ВІДПОВІДАТИ</div>
<div class="v" style="left:583.5px;width:176.8px;top:527.10px;height:34.35px;line-height:34.35px">21%</div>
<div class="v" style="left:760.3px;width:100.5px;top:527.10px;height:34.35px;line-height:34.35px">26%</div>
<div class="v" style="left:860.8px;width:139.0px;top:527.10px;height:34.35px;line-height:34.35px">14%</div>
</body></html>
